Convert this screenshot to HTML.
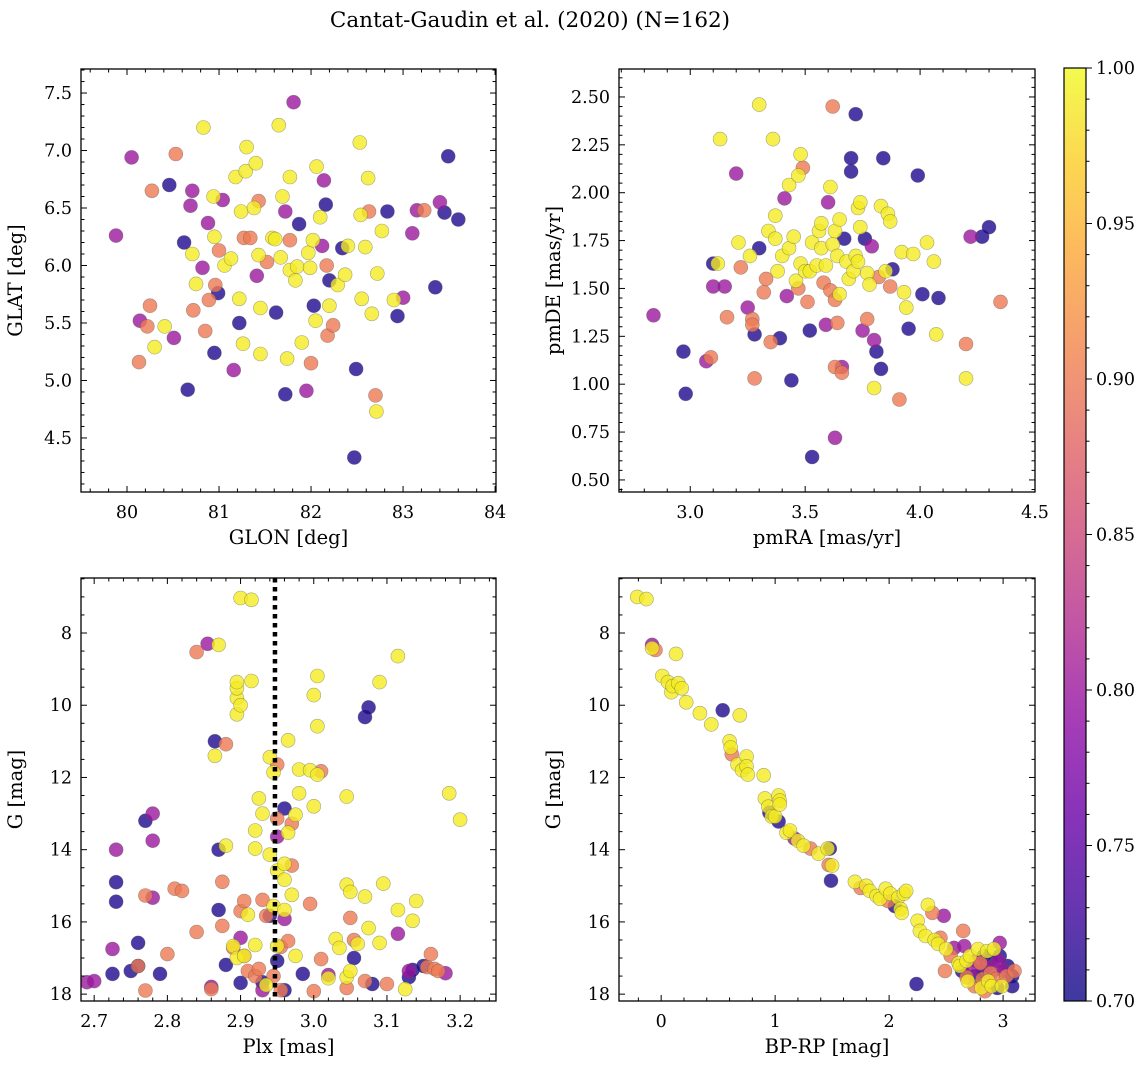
<!DOCTYPE html>
<html><head><meta charset="utf-8">
<style>
html,body{margin:0;padding:0;background:#fff;}
svg{display:block;font-family:"DejaVu Serif","Liberation Serif",serif;}
</style></head>
<body>
<svg id="fig" width="1148" height="1068" viewBox="0 0 1148 1068" xmlns="http://www.w3.org/2000/svg">
<defs>
<linearGradient id="plasma" x1="0" y1="1" x2="0" y2="0">
<stop offset="0" stop-color="#0d0887"/><stop offset="0.1" stop-color="#41049d"/><stop offset="0.2" stop-color="#6a00a8"/><stop offset="0.3" stop-color="#8f0da4"/><stop offset="0.4" stop-color="#b12a90"/><stop offset="0.5" stop-color="#cc4778"/><stop offset="0.6" stop-color="#e16462"/><stop offset="0.7" stop-color="#f2844b"/><stop offset="0.8" stop-color="#fca636"/><stop offset="0.9" stop-color="#fcce25"/><stop offset="1" stop-color="#f0f921"/>
</linearGradient>
</defs>
<text x="530" y="27" font-size="21.5" text-anchor="middle">Cantat-Gaudin et al. (2020) (N=162)</text>
</svg>
<script>
// ---- Panel 1: GLON vs GLAT ----
const glon=[79.88,80.05,80.14,80.13,80.22,80.25,80.27,80.30,80.41,80.46,80.51,80.53,80.62,80.66,80.69,80.71,80.71,80.72,80.75,80.82,80.83,80.85,80.88,80.89,80.94,80.95,80.95,80.96,80.99,81.0,81.04,81.06,81.13,81.16,81.18,81.22,81.22,81.24,81.26,81.27,81.29,81.30,81.34,81.38,81.40,81.41,81.43,81.43,81.45,81.45,81.52,81.58,81.61,81.62,81.65,81.67,81.69,81.72,81.72,81.74,81.77,81.77,81.77,81.81,81.83,81.85,81.87,81.9,81.95,81.97,81.99,82.0,82.02,82.03,82.05,82.06,82.10,82.12,82.14,82.16,82.17,82.18,82.2,82.2,82.24,82.29,82.34,82.37,82.40,82.47,82.49,82.53,82.54,82.55,82.59,82.62,82.63,82.66,82.70,82.71,82.72,82.77,82.83,82.9,82.94,83.0,83.1,83.15,83.23,83.35,83.40,83.45,83.49,83.6];
const glat=[6.26,6.94,5.52,5.16,5.47,5.65,6.65,5.29,5.47,6.7,5.37,6.97,6.2,4.92,6.52,6.65,6.1,5.61,5.84,5.98,7.2,5.43,6.37,5.7,6.6,5.24,6.25,5.83,5.76,6.13,6.57,6.0,6.06,5.09,6.77,5.5,5.71,6.47,5.32,6.24,6.82,7.03,6.24,6.5,6.89,5.91,6.56,6.09,5.63,5.23,6.03,6.24,6.23,5.59,7.22,6.07,6.6,6.47,4.88,5.19,6.77,5.96,6.22,7.42,5.87,5.99,6.36,5.33,4.91,6.11,5.98,5.15,6.22,5.65,5.52,6.86,6.42,6.17,6.74,6.53,6.0,5.39,5.87,5.65,5.48,5.83,6.15,5.92,6.17,4.33,5.1,7.07,6.44,5.71,6.16,6.76,6.47,5.58,4.87,4.73,5.93,6.3,6.47,5.7,5.56,5.72,6.28,6.48,6.48,5.81,6.55,6.46,6.95,6.4];
const prob1=[0.80,0.80,0.80,0.90,0.90,0.90,0.90,0.99,0.99,0.71,0.80,0.90,0.71,0.71,0.80,0.80,0.99,0.90,0.99,0.80,0.99,0.90,0.80,0.90,0.99,0.71,0.99,0.90,0.71,0.90,0.80,0.99,0.99,0.80,0.99,0.71,0.99,0.99,0.99,0.90,0.99,0.99,0.90,0.99,0.99,0.80,0.90,0.99,0.99,0.99,0.90,0.99,0.99,0.71,0.99,0.99,0.99,0.80,0.71,0.99,0.99,0.99,0.90,0.80,0.99,0.99,0.71,0.99,0.80,0.99,0.99,0.90,0.99,0.71,0.99,0.99,0.99,0.80,0.80,0.71,0.90,0.90,0.71,0.99,0.90,0.99,0.71,0.99,0.99,0.71,0.71,0.99,0.99,0.99,0.99,0.99,0.90,0.99,0.90,0.99,0.99,0.99,0.71,0.99,0.71,0.80,0.80,0.80,0.90,0.71,0.80,0.71,0.71,0.71];
// ---- Panel 2: pmRA vs pmDE ----
const pmra=[2.84,2.97,2.98,3.07,3.09,3.10,3.10,3.12,3.13,3.15,3.16,3.20,3.21,3.22,3.25,3.26,3.27,3.27,3.28,3.28,3.30,3.30,3.32,3.33,3.34,3.35,3.36,3.37,3.37,3.38,3.39,3.40,3.41,3.42,3.43,3.43,3.44,3.45,3.46,3.47,3.47,3.48,3.48,3.49,3.50,3.51,3.52,3.52,3.53,3.53,3.55,3.56,3.57,3.57,3.58,3.59,3.59,3.60,3.61,3.61,3.62,3.62,3.63,3.63,3.63,3.63,3.64,3.64,3.65,3.65,3.66,3.66,3.67,3.68,3.69,3.70,3.70,3.71,3.72,3.72,3.73,3.73,3.74,3.74,3.75,3.76,3.77,3.77,3.78,3.79,3.80,3.80,3.81,3.82,3.83,3.83,3.84,3.85,3.86,3.87,3.87,3.88,3.91,3.92,3.93,3.94,3.95,3.97,3.99,4.01,4.03,4.06,4.07,4.08,4.20,4.20,4.22,4.27,4.30,4.35];
const pmde=[1.36,1.17,0.95,1.12,1.14,1.51,1.63,1.63,2.28,1.51,1.35,2.10,1.74,1.61,1.40,1.67,1.34,1.31,1.26,1.03,2.46,1.71,1.48,1.55,1.80,1.22,2.28,1.76,1.88,1.59,1.24,1.67,1.97,1.46,2.04,1.71,1.02,1.77,1.54,1.50,2.09,2.20,1.63,2.13,1.59,1.43,1.59,1.28,1.74,0.62,1.62,1.80,1.71,1.84,1.53,1.62,1.31,1.95,1.49,2.03,2.45,1.73,1.80,1.44,1.09,0.72,1.32,1.67,1.86,1.47,1.06,1.09,1.76,1.64,1.55,2.11,2.18,1.59,2.41,1.67,1.92,1.64,1.82,1.95,1.28,1.76,1.34,1.58,1.52,1.72,1.23,0.98,1.17,1.56,1.08,1.93,2.18,1.59,1.89,1.51,1.85,1.60,0.92,1.69,1.48,1.40,1.29,1.68,2.09,1.47,1.74,1.64,1.26,1.45,1.21,1.03,1.77,1.77,1.82,1.43];
const prob2=[0.80,0.71,0.71,0.80,0.90,0.80,0.71,0.99,0.99,0.80,0.90,0.80,0.99,0.90,0.80,0.99,0.90,0.90,0.71,0.90,0.99,0.71,0.90,0.90,0.99,0.90,0.99,0.99,0.99,0.99,0.71,0.99,0.80,0.80,0.99,0.99,0.71,0.99,0.99,0.90,0.99,0.99,0.99,0.90,0.99,0.90,0.99,0.71,0.99,0.71,0.99,0.99,0.99,0.99,0.90,0.99,0.80,0.80,0.90,0.99,0.90,0.99,0.99,0.90,0.90,0.80,0.90,0.99,0.99,0.99,0.90,0.80,0.71,0.99,0.99,0.71,0.71,0.99,0.71,0.99,0.99,0.99,0.99,0.99,0.80,0.71,0.90,0.99,0.99,0.80,0.80,0.99,0.71,0.90,0.71,0.99,0.71,0.99,0.99,0.90,0.99,0.71,0.90,0.99,0.99,0.99,0.71,0.99,0.71,0.71,0.99,0.99,0.99,0.71,0.90,0.99,0.80,0.71,0.71,0.90];
// ---- Panel 3: Plx vs G ----
const plx=[2.69,2.70,2.725,2.73,2.73,2.73,2.725,2.75,2.76,2.76,2.76,2.77,2.77,2.77,2.78,2.78,2.78,2.79,2.80,2.81,2.82,2.84,2.84,2.855,2.86,2.86,2.865,2.865,2.87,2.87,2.87,2.875,2.88,2.88,2.875,2.88,2.89,2.89,2.895,2.895,2.895,2.895,2.895,2.90,2.90,2.90,2.90,2.905,2.905,2.90,2.905,2.91,2.91,2.915,2.915,2.92,2.92,2.92,2.92,2.925,2.925,2.93,2.93,2.93,2.93,2.935,2.935,2.94,2.94,2.94,2.945,2.945,2.945,2.95,2.95,2.95,2.95,2.95,2.95,2.955,2.955,2.96,2.96,2.96,2.96,2.96,2.96,2.965,2.965,2.965,2.97,2.97,2.97,2.975,2.975,2.98,2.98,2.985,2.995,2.995,3.0,3.0,3.0,3.005,3.005,3.005,3.01,3.01,3.02,3.02,3.03,3.035,3.045,3.045,3.045,3.045,3.05,3.05,3.05,3.055,3.055,3.06,3.07,3.07,3.07,3.075,3.075,3.08,3.09,3.09,3.095,3.1,3.115,3.115,3.115,3.125,3.13,3.13,3.135,3.135,3.14,3.15,3.155,3.16,3.165,3.17,3.18,3.185,3.2];
const gmag3=[17.67,17.64,16.75,15.44,14.0,14.9,17.44,17.36,17.22,16.58,17.22,17.9,15.27,13.2,13.0,13.75,15.33,17.44,16.89,15.08,15.14,8.53,16.28,8.3,17.8,17.86,11.4,11.0,15.67,14.0,8.33,16.11,17.19,11.08,14.89,13.89,16.67,16.72,10.25,9.8,9.53,9.36,17.0,17.69,15.7,7.03,16.44,15.42,16.94,10.0,16.94,15.8,17.36,7.08,9.33,17.5,13.97,13.47,16.64,17.3,12.58,17.67,13.0,15.39,17.89,15.83,17.75,14.14,11.44,15.83,15.56,11.86,17.5,16.67,13.64,14.58,17.08,13.14,11.64,17.89,16.69,17.89,15.92,15.67,14.39,14.83,12.86,10.97,13.53,16.53,14.44,15.25,13.28,16.94,13.03,12.44,11.78,17.44,15.5,11.8,9.72,12.8,17.92,10.58,11.92,9.19,11.83,17.03,17.56,17.47,16.47,16.72,12.53,14.97,17.53,17.83,17.36,15.89,15.17,17.0,16.5,16.61,15.3,10.33,17.64,16.17,10.06,17.72,16.58,9.36,14.94,17.72,8.64,15.67,16.33,17.86,17.53,17.36,15.97,17.33,15.42,17.22,17.25,16.89,17.3,17.36,17.42,12.44,13.17];
const prob3=[0.80,0.80,0.80,0.71,0.80,0.71,0.71,0.71,0.90,0.71,0.71,0.90,0.90,0.71,0.80,0.80,0.80,0.71,0.90,0.90,0.90,0.90,0.90,0.80,0.80,0.90,0.99,0.71,0.71,0.71,0.99,0.90,0.71,0.90,0.90,0.99,0.99,0.90,0.99,0.99,0.99,0.99,0.99,0.71,0.90,0.99,0.80,0.90,0.99,0.99,0.90,0.99,0.90,0.99,0.99,0.90,0.99,0.99,0.99,0.90,0.99,0.71,0.99,0.90,0.80,0.90,0.99,0.99,0.99,0.71,0.99,0.99,0.90,0.99,0.80,0.99,0.71,0.90,0.90,0.90,0.90,0.71,0.80,0.99,0.99,0.99,0.71,0.99,0.99,0.90,0.90,0.99,0.90,0.99,0.99,0.99,0.99,0.71,0.90,0.99,0.99,0.99,0.90,0.99,0.99,0.99,0.90,0.90,0.99,0.80,0.99,0.99,0.99,0.99,0.99,0.90,0.99,0.90,0.99,0.71,0.90,0.99,0.99,0.71,0.90,0.99,0.71,0.71,0.99,0.99,0.99,0.90,0.99,0.99,0.80,0.99,0.71,0.80,0.99,0.71,0.99,0.71,0.90,0.90,0.90,0.90,0.80,0.99,0.99];
// ---- Panel 4: BP-RP vs G ----
const bprp=[-0.21,-0.13,-0.08,-0.05,-0.08,0.01,0.06,0.09,0.1,0.13,0.15,0.18,0.22,0.34,0.44,0.54,0.60,0.61,0.62,0.67,0.69,0.71,0.75,0.75,0.76,0.90,0.91,0.94,0.95,0.97,1.0,1.03,1.04,1.03,1.04,1.10,1.13,1.17,1.20,1.25,1.31,1.38,1.46,1.48,1.47,1.50,1.49,1.70,1.75,1.80,1.83,1.89,1.92,1.97,1.99,2.01,2.05,2.08,2.10,2.11,2.13,2.15,2.24,2.25,2.27,2.32,2.34,2.38,2.40,2.43,2.45,2.48,2.49,2.50,2.54,2.57,2.61,2.62,2.64,2.65,2.66,2.68,2.68,2.69,2.71,2.73,2.75,2.75,2.76,2.78,2.80,2.81,2.82,2.82,2.83,2.84,2.85,2.86,2.87,2.89,2.89,2.90,2.92,2.93,2.94,2.95,2.96,2.97,2.99,3.01,3.03,3.04,3.08,3.10,3.08,2.97];
const gmag4=[7.0,7.06,8.33,8.47,8.42,9.19,9.36,9.64,9.47,8.58,9.39,9.53,9.92,10.22,10.53,10.14,11.0,11.17,11.36,11.64,10.28,11.8,11.42,11.69,11.92,11.94,12.58,12.81,12.97,13.08,13.08,12.5,12.64,13.22,12.75,13.53,13.47,13.69,13.75,13.89,13.97,14.11,13.97,13.97,14.42,14.44,14.86,14.89,15.06,15.0,15.14,15.28,15.36,15.08,15.42,15.22,15.56,15.33,15.64,15.75,15.22,15.14,17.72,15.97,16.25,16.39,15.53,15.75,16.5,16.61,16.44,15.83,17.36,16.75,16.94,16.72,17.14,17.22,17.36,16.25,16.67,17.08,17.53,17.64,16.94,17.31,17.78,17.5,17.08,16.75,17.14,17.83,17.58,17.36,16.94,17.92,17.22,16.81,17.64,17.42,17.03,17.78,16.75,17.31,17.58,17.83,17.08,16.94,17.78,17.36,17.5,17.22,17.5,17.36,17.78,16.58];
const prob4=[0.99,0.99,0.80,0.90,0.99,0.99,0.99,0.99,0.99,0.99,0.99,0.99,0.99,0.99,0.99,0.71,0.99,0.99,0.90,0.99,0.99,0.99,0.99,0.99,0.99,0.99,0.99,0.99,0.71,0.99,0.99,0.99,0.99,0.71,0.99,0.99,0.99,0.80,0.99,0.99,0.90,0.99,0.99,0.71,0.90,0.99,0.71,0.99,0.90,0.99,0.99,0.99,0.99,0.99,0.90,0.99,0.71,0.99,0.99,0.99,0.99,0.99,0.71,0.99,0.99,0.99,0.99,0.90,0.99,0.99,0.90,0.80,0.90,0.99,0.90,0.80,0.99,0.99,0.71,0.90,0.80,0.99,0.90,0.99,0.99,0.80,0.90,0.71,0.80,0.99,0.90,0.99,0.90,0.71,0.71,0.90,0.80,0.99,0.99,0.90,0.71,0.99,0.99,0.80,0.90,0.71,0.80,0.71,0.99,0.80,0.90,0.71,0.71,0.90,0.71,0.80];
// colorbar ticks
const cbTicks=["0.70","0.75","0.80","0.85","0.90","0.95","1.00"];
const plxRef=[2.947];

const NS="http://www.w3.org/2000/svg";
const svg=document.getElementById('fig');
function mk(tag,attrs,parent){const e=document.createElementNS(NS,tag);for(const k in attrs)e.setAttribute(k,attrs[k]);(parent||svg).appendChild(e);return e;}
const stops=[[0,[13,8,135]],[0.1,[65,4,157]],[0.2,[106,0,168]],[0.3,[143,13,164]],[0.4,[177,42,144]],[0.5,[204,71,120]],[0.6,[225,100,98]],[0.7,[242,132,75]],[0.8,[252,166,54]],[0.9,[252,206,37]],[1,[240,249,33]]];
function plasma(t){t=Math.max(0,Math.min(1,t));for(let i=1;i<stops.length;i++){if(t<=stops[i][0]){const a=stops[i-1],b=stops[i];const f=(t-a[0])/(b[0]-a[0]);const c=a[1].map((v,j)=>Math.round(v+(b[1][j]-v)*f));return `rgb(${c.join(',')})`;}}return 'rgb(240,249,33)';}
function fmt(v,d){return v.toFixed(d);}
const TF=17.5, LF=19.5;
function panel(name,box,xd,yd,xt,yt,xlab,ylab,xs,ys,ps,xdec,ydec,invertY){
  const [L,T,R,B]=box;
  const g=mk('g',{});
  
  
  const sx=v=>L+(v-xd[0])/(xd[1]-xd[0])*(R-L);
  const sy=invertY?(v=>T+(v-yd[0])/(yd[1]-yd[0])*(B-T)):(v=>B-(v-yd[0])/(yd[1]-yd[0])*(B-T));
  const cp='clip-'+name;
  const cl=mk('clipPath',{id:cp},g);mk('rect',{x:L,y:T,width:R-L,height:B-T},cl);
  const pg=mk('g',{'clip-path':`url(#${cp})`},g);
  const idx=xs.map((_,i)=>i).sort((a,b)=>ps[a]-ps[b]);
  idx.forEach(i=>{
    const c=mk('circle',{cx:sx(xs[i]).toFixed(1),cy:sy(ys[i]).toFixed(1),r:7,fill:plasma((ps[i]-0.7)/0.3),'fill-opacity':0.8,stroke:'#555','stroke-opacity':0.5,'stroke-width':0.6},pg);
    
    
  });
  const tg=mk('g',{stroke:'#000','stroke-width':1},g);
  const eps=1e-9;
  for(let v=Math.ceil(xd[0]/xt[1]-eps)*xt[1];v<=xd[1]+eps;v+=xt[1]){const x=sx(v);const maj=Math.abs(v/xt[0]-Math.round(v/xt[0]))<1e-6;const l=maj?6:3.5;mk('line',{x1:x,y1:B,x2:x,y2:B-l},tg);mk('line',{x1:x,y1:T,x2:x,y2:T+l},tg);
    if(maj){const t=mk('text',{x:x,y:B+26,'font-size':TF,'text-anchor':'middle',stroke:'none',fill:'#000'},g);t.textContent=fmt(v,xdec);}}
  for(let v=Math.ceil(Math.min(yd[0],yd[1])/yt[1]-eps)*yt[1];v<=Math.max(yd[0],yd[1])+eps;v+=yt[1]){const y=sy(v);const maj=Math.abs(v/yt[0]-Math.round(v/yt[0]))<1e-6;const l=maj?6:3.5;mk('line',{x1:L,y1:y,x2:L+l,y2:y},tg);mk('line',{x1:R,y1:y,x2:R-l,y2:y},tg);
    if(maj){const t=mk('text',{x:L-9,y:y+6,'font-size':TF,'text-anchor':'end',fill:'#000'},g);t.textContent=fmt(v,ydec);}}
  const fr=mk('rect',{x:L,y:T,width:R-L,height:B-T,fill:'none',stroke:'#000','stroke-width':1.3},g);
  
  const xl=mk('text',{x:(L+R)/2,y:B+52,'font-size':LF,'text-anchor':'middle'},g);xl.textContent=xlab;
  
  const yx=L-59, ym=(T+B)/2;
  const yl=mk('text',{x:yx,y:ym,'font-size':LF,'text-anchor':'middle',transform:`rotate(-90 ${yx} ${ym})`},g);yl.textContent=ylab;
  
  return {sx,sy,g};
}
panel('glon-glat-panel',[81,69,496,492],[79.5,84.01],[4.03,7.709],[1,0.2],[0.5,0.1],'GLON [deg]','GLAT [deg]',glon,glat,prob1,0,1,false);
panel('pm-panel',[619,69,1035,492],[2.69,4.5],[0.437,2.646],[0.5,0.1],[0.25,0.05],'pmRA [mas/yr]','pmDE [mas/yr]',pmra,pmde,prob2,1,2,false);
const p3=panel('plx-g-panel',[81,578,496,1001],[2.682,3.249],[6.477,18.19],[0.1,0.02],[2,0.5],'Plx [mas]','G [mag]',plx,gmag3,prob3,1,0,true);
plxRef.forEach(v=>{const l=mk('line',{x1:p3.sx(v),y1:578,x2:p3.sx(v),y2:1001,stroke:'#000','stroke-width':4.5,'stroke-dasharray':'4.5 4.5'},p3.g);

});
panel('cmd-panel',[619,578,1035,1001],[-0.37,3.28],[6.477,18.19],[1,0.2],[2,0.5],'BP-RP [mag]','G [mag]',bprp,gmag4,prob4,0,0,true);
const cb=mk('g',{});


mk('rect',{x:1064,y:68,width:22,height:933,fill:'url(#plasma)','fill-opacity':0.8},cb);
mk('rect',{x:1064,y:68,width:22,height:933,fill:'none',stroke:'#000','stroke-width':1.2},cb);
const cby=v=>1001-(v-0.70)/0.30*933;
for(let k=0;k<=30;k++){const v=0.70+k*0.01;const y=cby(v);const maj=k%5===0;mk('line',{x1:1086,y1:y,x2:1086+(maj?6:3.5),y2:y,stroke:'#000','stroke-width':1},cb);}
cbTicks.forEach(s=>{const t=mk('text',{x:1096,y:cby(parseFloat(s))+6,'font-size':TF},cb);t.textContent=s;

});
</script>
</body></html>
